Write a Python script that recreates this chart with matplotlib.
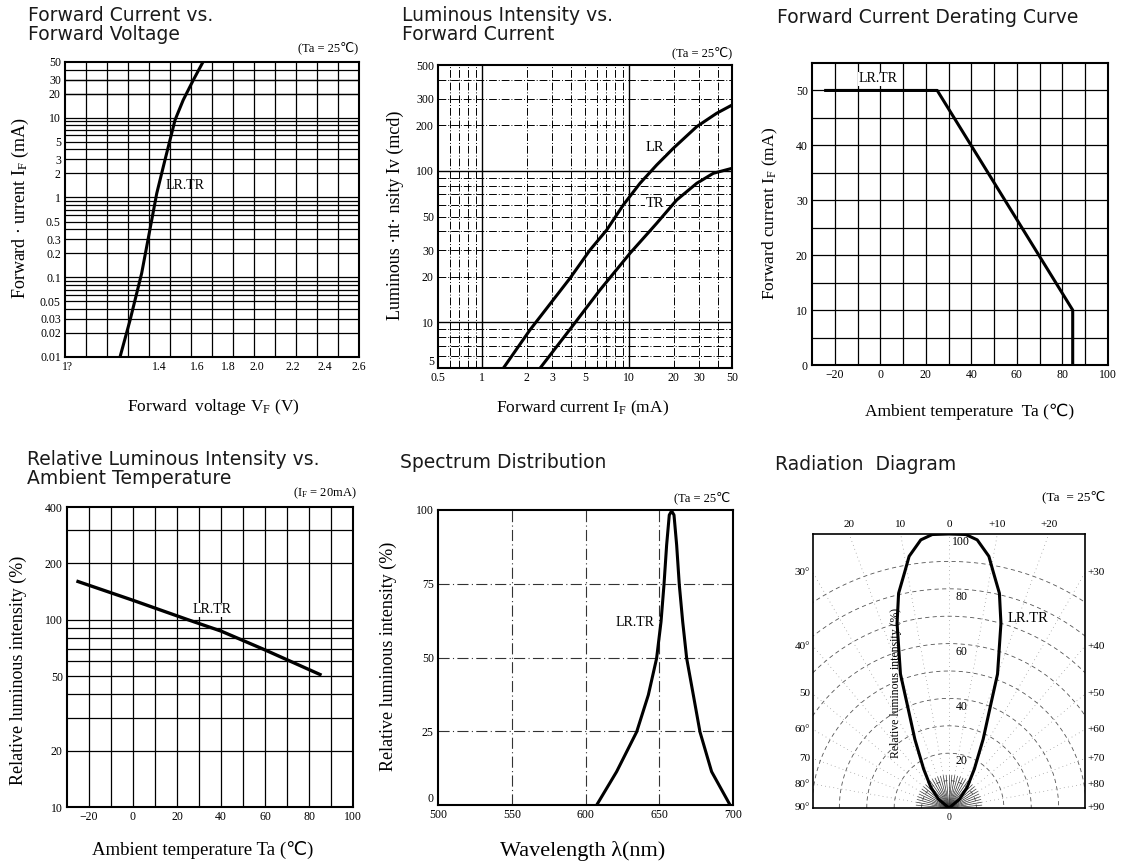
import matplotlib
matplotlib.use('Agg')
import matplotlib.pyplot as plt
import numpy as np

W, H = 1122, 864

plt.rcParams['font.family'] = ['Liberation Serif', 'DejaVu Sans']
plt.rcParams['mathtext.fontset'] = 'custom'
plt.rcParams['mathtext.rm'] = 'Liberation Serif'
plt.rcParams['mathtext.it'] = 'Liberation Serif:italic'

TITLE_FONT = ['DejaVu Sans']

# ---- Forward current vs forward voltage
vf_volts = [1.462, 1.510, 1.565, 1.613, 1.637, 1.676, 1.724, 1.763, 1.811, 1.857]
vf_current = [0.01, 0.0291, 0.112, 0.523, 1.13, 2.95, 9.37, 16.7, 29.7, 50]
vf_xtick_pos = [1.214, 1.648, 1.829, 1.977, 2.114, 2.286, 2.438, 2.6]
vf_xtick_lab = ['1?', '1.4', '1.6', '1.8', '2.0', '2.2', '2.4', '2.6']
vf_yticks = [50, 30, 20, 10, 5, 3, 2, 1, 0.5, 0.3, 0.2, 0.1, 0.05, 0.03, 0.02, 0.01]
vf_ylabels = ['50', '30', '20', '10', '5', '3', '2', '1', '0.5', '0.3', '0.2',
              '0.1', '0.05', '0.03', '0.02', '0.01']

# ---- Luminous intensity vs forward current
iv_if_lr = [1.39, 2.11, 3.95, 5.41, 7.02, 9.11, 11.83, 15.37, 19.94, 28.77, 39.3, 50]
iv_lr = [4.98, 8.91, 19.55, 30.07, 40.7, 59.6, 82.8, 109.4, 141, 195.9, 240, 272]
iv_if_tr = [2.47, 4.16, 6.33, 10.12, 15.37, 21.0, 28.77, 37.3, 50]
iv_tr = [4.98, 9.6, 16.4, 28.6, 45.1, 64.2, 82.8, 96.4, 104]
iv_xticks = [0.5, 1, 2, 3, 5, 10, 20, 30, 50]
iv_yticks = [5, 10, 20, 30, 50, 100, 200, 300, 500]

# ---- Derating curve
der_ta = [-24, 25, 84.5, 84.5]
der_if = [50, 50, 10, 0]

# ---- Relative intensity vs ambient temperature
rel_ta = [-25, 0, 25, 40, 60, 85]
rel_iv = [160, 127, 100, 87, 69, 51]
rel_yticks = [10, 20, 50, 100, 200, 400]
rel_ygrid = [20, 30, 40, 50, 60, 70, 80, 90, 100, 200, 300]

# ---- Spectrum
sp_wl = [607.6, 621.1, 634.7, 642.6, 648.2, 651.2, 653.2, 655.0, 656.8, 658.4,
         660.0, 661.8, 663.6, 665.9, 668.6, 673.1, 677.6, 685.5, 698]
sp_rel = [0, 11.3, 24.8, 37.3, 49.7, 62.1, 74.6, 88.1, 98.3, 99.7,
          98.3, 88.1, 74.6, 62.1, 49.7, 37.3, 24.8, 11.3, 0]

# ---- Radiation diagram
rad_angle = [0, 3.5, 6, 9, 10.5, 13.2, 15.7, 19.9, 21.9, 26.4, 33, 41.3, 50, 90]
rad_rel = [100, 100, 98.4, 93, 88, 80.5, 70, 52, 41, 28, 17, 10, 5, 0]
rad_top_angles = [-20, -10, 0, 10, 20]
rad_top_labels = ['20', '10', '0', '+10', '+20']
rad_side_angles = [30, 40, 50, 60, 70, 80, 90]
rad_left_labels = ['30°', '40°', '50', '60°', '70', '80°', '90°']
rad_right_labels = ['+30', '+40', '+50', '+60', '+70', '+80', '+90']
rad_rings = [10, 20, 30, 40, 50, 60, 70, 80, 90]


def px_axes(fig, l, t, r, b):
    return fig.add_axes([l / W, 1 - b / H, (r - l) / W, (b - t) / H])


def px_text(fig, x, y, s, **kw):
    fig.text(x / W, 1 - y / H, s, **kw)


def frame(ax, lw=1.5):
    for s in ax.spines.values():
        s.set_linewidth(lw)
        s.set_color('black')
    ax.tick_params(length=0, labelsize=8.5, pad=3)


def title(fig, x, y, s):
    px_text(fig, x, y, s, family=TITLE_FONT, fontsize=13.5, va='top',
            ha='left', color='#1a1a1a', linespacing=1.0)


fig = plt.figure(figsize=(W / 100, H / 100), dpi=100)

# ================= panel 1
ax = px_axes(fig, 65, 62, 359, 357)
frame(ax)
ax.set_yscale('log')
ax.set_xlim(1.2, 2.6)
ax.set_ylim(0.01, 50)
for v in np.arange(1.3, 2.6, 0.1):
    ax.axvline(v, color='black', lw=0.9)
for dec in [0.01, 0.1, 1, 10]:
    for m in range(1, 10):
        if dec * m < 50:
            ax.axhline(dec * m, color='black', lw=0.9)
ax.axhline(20, color='black', lw=0.9)
ax.axhline(30, color='black', lw=0.9)
ax.plot(vf_volts, vf_current, color='black', lw=2.2)
ax.set_xticks(vf_xtick_pos)
ax.set_xticklabels(vf_xtick_lab)
ax.set_yticks(vf_yticks)
ax.set_yticklabels(vf_ylabels)
ax.minorticks_off()
ax.text(1.771, 1.43, 'LR.TR', fontsize=10, ha='center', va='center')
title(fig, 28, 6, 'Forward Current vs.\nForward Voltage')
px_text(fig, 358, 48, '(Ta = 25℃)', fontsize=9, ha='right', va='center')
px_text(fig, 20, 208, 'Forward · urrent I$_\\mathrm{F}$ (mA)', fontsize=13,
        rotation=90, ha='center', va='center')
px_text(fig, 213, 407, 'Forward  voltage V$_\\mathrm{F}$ (V)', fontsize=12.5,
        ha='center', va='center')

# ================= panel 2
ax = px_axes(fig, 438, 65, 732, 368)
frame(ax)
ax.set_xscale('log')
ax.set_yscale('log')
ax.set_xlim(0.5, 50)
ax.set_ylim(5, 500)
for dec in [0.1, 1, 10]:
    for m in range(1, 10):
        v = dec * m
        if 0.5 < v < 50:
            if m == 1:
                ax.axvline(v, color='black', lw=1.0)
            else:
                ax.axvline(v, color='black', lw=0.7, ls=(0, (8, 2, 1, 2)))
for dec in [1, 10, 100]:
    for m in range(1, 10):
        v = dec * m
        if 5 < v < 500:
            if m == 1:
                ax.axhline(v, color='black', lw=1.0)
            else:
                ax.axhline(v, color='black', lw=0.7, ls=(0, (8, 2, 1, 2)))
ax.plot(iv_if_lr, iv_lr, color='black', lw=2.2)
ax.plot(iv_if_tr, iv_tr, color='black', lw=2.2)
ax.set_xticks(iv_xticks)
ax.set_xticklabels([('%g' % v) for v in iv_xticks])
ax.set_yticks(iv_yticks)
ax.set_yticklabels([('%g' % v) for v in iv_yticks])
ax.get_yticklabels()[0].set_va('bottom')
ax.minorticks_off()
ax.text(14.97, 143, 'LR', fontsize=10.5, ha='center', va='center',
        bbox=dict(fc='white', ec='none', pad=0.5))
ax.text(14.97, 61, 'TR', fontsize=10.5, ha='center', va='center',
        bbox=dict(fc='white', ec='none', pad=0.5))
title(fig, 402, 6, 'Luminous Intensity vs.\nForward Current')
px_text(fig, 732, 53, '(Ta = 25℃)', fontsize=9, ha='right', va='center')
px_text(fig, 395, 215, 'Luminous ·nt· nsity Iv (mcd)', fontsize=13,
        rotation=90, ha='center', va='center')
px_text(fig, 583, 408, 'Forward current I$_\\mathrm{F}$ (mA)', fontsize=12.5,
        ha='center', va='center')

# ================= panel 3
ax = px_axes(fig, 812, 63, 1108, 365)
frame(ax)
ax.set_xlim(-30, 100)
ax.set_ylim(0, 55)
for v in range(-20, 100, 10):
    ax.axvline(v, color='black', lw=0.9)
for v in range(5, 55, 5):
    ax.axhline(v, color='black', lw=0.9)
ax.plot(der_ta, der_if, color='black', lw=2.2)
ax.set_xticks(range(-20, 101, 20))
ax.set_xticklabels(['−20', '0', '20', '40', '60', '80', '100'])
ax.set_yticks(range(0, 51, 10))
ax.text(-1, 52.1, 'LR.TR', fontsize=10, ha='center', va='center',
        bbox=dict(fc='white', ec='none', pad=0.5))
px_text(fig, 777, 8, 'Forward Current Derating Curve', family=TITLE_FONT,
        fontsize=13.5, va='top', ha='left', color='#1a1a1a')
px_text(fig, 770, 213, 'Forward current I$_\\mathrm{F}$ (mA)', fontsize=12.5,
        rotation=90, ha='center', va='center')
px_text(fig, 970, 412, 'Ambient temperature  Ta (℃)', fontsize=12.5,
        ha='center', va='center')

# ================= panel 4
ax = px_axes(fig, 67, 507, 353, 807)
frame(ax)
ax.set_yscale('log')
ax.set_xlim(-30, 100)
ax.set_ylim(10, 400)
for v in range(-20, 100, 10):
    ax.axvline(v, color='black', lw=0.9)
for v in rel_ygrid:
    ax.axhline(v, color='black', lw=0.9)
ax.plot(rel_ta, rel_iv, color='black', lw=2.4)
ax.set_xticks(range(-20, 101, 20))
ax.set_xticklabels(['−20', '0', '20', '40', '60', '80', '100'])
ax.set_yticks(rel_yticks)
ax.set_yticklabels([str(v) for v in rel_yticks])
ax.minorticks_off()
ax.text(35.9, 113, 'LR.TR', fontsize=10, ha='center', va='center',
        bbox=dict(fc='white', ec='none', pad=0.5))
title(fig, 27, 450, 'Relative Luminous Intensity vs.\nAmbient Temperature')
px_text(fig, 357, 493, '(I$_\\mathrm{F}$ = 20mA)', fontsize=9, ha='right',
        va='center')
px_text(fig, 18, 670, 'Relative luminous intensity (%)', fontsize=13,
        rotation=90, ha='center', va='center')
px_text(fig, 203, 850, 'Ambient temperature Ta (℃)', fontsize=13.5,
        ha='center', va='center')

# ================= panel 5
ax = px_axes(fig, 438, 510, 733, 805)
frame(ax)
ax.set_xlim(500, 700)
ax.set_ylim(0, 100)
for v in [550, 600, 650]:
    ax.axvline(v, color='#333333', lw=0.8, ls=(0, (10, 3, 1, 3)))
for v in [25, 50, 75]:
    ax.axhline(v, color='#333333', lw=0.8, ls=(0, (10, 3, 1, 3)))
ax.plot(sp_wl, sp_rel, color='black', lw=2.2)
ax.set_xticks([500, 550, 600, 650, 700])
ax.set_yticks([0, 25, 50, 75, 100])
ax.get_yticklabels()[0].set_va('bottom')
ax.text(633.6, 61.7, 'LR.TR', fontsize=10, ha='center', va='center')
px_text(fig, 400, 453, 'Spectrum Distribution', family=TITLE_FONT,
        fontsize=13.5, va='top', ha='left', color='#1a1a1a')
px_text(fig, 730, 498, '(Ta = 25℃', fontsize=9, ha='right', va='center')
px_text(fig, 388, 656, 'Relative luminous intensity (%)', fontsize=13,
        rotation=90, ha='center', va='center')
px_text(fig, 583, 851, 'Wavelength λ(nm)', fontsize=16,
        ha='center', va='center')

# ================= panel 6
ax = px_axes(fig, 813, 534, 1085, 808)
frame(ax, lw=1.2)
half = 49.6
ax.set_xlim(-half, half)
ax.set_ylim(0, 100)
ax.set_xticks([])
ax.set_yticks([])
t = np.radians(np.linspace(-90, 90, 181))
for r in rad_rings:
    ax.plot(r * np.sin(t), r * np.cos(t), color='#555555', lw=0.6,
            ls=(0, (5, 4)))
for a in range(-90, 91, 10):
    ar = np.radians(a)
    ax.plot([0, 200 * np.sin(ar)], [0, 200 * np.cos(ar)], color='#777777',
            lw=0.5, ls=(0, (1, 5)))
for a in range(-85, 90, 5):
    ar = np.radians(a)
    ax.plot([0, 12 * np.sin(ar)], [0, 12 * np.cos(ar)], color='#333333',
            lw=0.5)
ang = np.radians(np.array([-a for a in rad_angle[::-1]] + rad_angle[1:]))
rr = np.array(rad_rel[::-1] + rad_rel[1:])
ax.plot(rr * np.sin(ang), rr * np.cos(ang), color='black', lw=2.2)
for r in [20, 40, 60, 80, 100]:
    ax.text(4.5, r - 3, str(r), fontsize=8.5, ha='center', va='center')
ax.text(28.7, 69.3, 'LR.TR', fontsize=10.5, ha='center', va='center')
ax.text(-19.3, 45.6, 'Relative luminous intensity (%)', fontsize=8.5,
        rotation=90, ha='center', va='center')
for a, lab in zip(rad_top_angles, rad_top_labels):
    ax.text(100 * np.tan(np.radians(a)), 102, lab, fontsize=8,
            ha='center', va='bottom')
for a, lab_l, lab_r in zip(rad_side_angles, rad_left_labels, rad_right_labels):
    yy = half / np.tan(np.radians(a))
    ax.text(-half - 1, yy, lab_l, fontsize=8, ha='right', va='center')
    ax.text(half + 1, yy, lab_r, fontsize=8, ha='left', va='center')
ax.text(0, -2, '0', fontsize=7, ha='center', va='top')
px_text(fig, 775, 455, 'Radiation  Diagram', family=TITLE_FONT,
        fontsize=13.5, va='top', ha='left', color='#1a1a1a')
px_text(fig, 1105, 497, '(Ta  = 25℃', fontsize=9.5, ha='right', va='center')

fig.savefig('out.png', dpi=100)
